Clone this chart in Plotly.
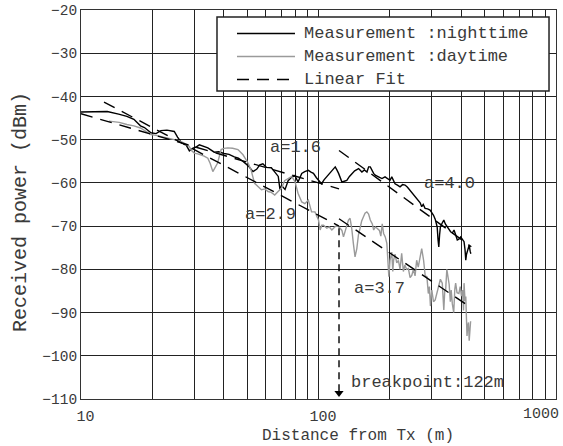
import math
import plotly.graph_objects as go

# ---- measured received power vs. distance ----
night_d = [10, 12.9, 14.4, 15.6, 16.7, 17.8, 18.5, 19.7, 20.7, 21.7, 23.0, 24.7, 25.5, 26.4,
           27.7, 28.6, 29.5, 30.5, 31.5, 33.0, 34.2, 36.4, 38.0, 40.0, 42.0, 44.2, 46.0, 48.0,
           50.5, 53.0, 55.0, 56.6, 58.3, 60.3, 63.3, 65.5, 67.7, 68.8, 69.9, 72.3, 74.5, 77.0,
           79.5, 82.0, 85.0, 87.5, 90.6, 93.0, 95.2, 98.0, 100, 103, 105.5, 108.4, 111, 113.8,
           117.6, 119.5, 121.5, 125.5, 128.5, 131.6, 135, 138.2, 142, 147.5, 152.3, 156, 160,
           162.6, 165.2, 170.6, 173.3, 179, 185, 190.6, 195, 200, 203.5, 210, 215, 220.5, 226,
           231.5, 237, 243, 249, 255, 263.5, 268, 272, 276, 281, 288, 295, 300, 305, 310, 316,
           318.5, 321, 323.5, 326, 331, 337, 342, 348, 354, 360, 366, 372, 378, 384, 390, 397,
           403, 410, 414, 417, 420, 424, 431, 435, 438]
night_p = [-43.6, -43.5, -44.1, -44.6, -45.3, -46.8, -47.2, -48.4, -48.6, -47.9, -47.8, -48.1,
           -49.4, -50.6, -51.2, -52.6, -52.0, -51.7, -51.2, -51.6, -51.9, -52.9, -52.8, -53.2,
           -53.4, -54.0, -54.3, -55.0, -56.0, -57.4, -56.8, -55.8, -55.6, -56.4, -56.5, -57.5,
           -58.5, -61.5, -60.6, -61.5, -59.5, -58.7, -58.3, -59.8, -57.8, -57.4, -57.1, -57.5,
           -57.8, -58.8, -59.4, -60.2, -59.3, -58.6, -57.8, -57.1, -56.3, -57.0, -57.8, -59.8,
           -59.6, -59.4, -58.5, -57.8, -57.2, -56.7, -57.5, -57.0, -57.5, -56.3, -56.3, -57.8,
           -58.2, -58.6, -59.0, -58.6, -58.9, -59.4, -58.6, -60.2, -60.5, -60.9, -60.4, -60.5,
           -61.0, -61.7, -62.3, -63.2, -64.0, -64.6, -65.5, -65.0, -65.9, -66.0, -66.3, -66.8,
           -67.5, -68.4, -70.2, -73.0, -74.8, -72.0, -70.2, -69.4, -68.6, -69.5, -70.2, -70.9,
           -71.3, -71.6, -70.9, -72.0, -73.2, -73.0, -72.5, -73.0, -73.6, -75.5, -77.9, -76.5,
           -75.5, -74.4, -75.8, -76.4]

day_d = [13.1, 14.5, 15.6, 16.7, 17.8, 18.8, 19.7, 20.7, 21.7, 23.0, 24.7, 26.0, 27.2, 28.5,
         29.2, 30.0, 31.0, 32.0, 33.0, 34.2, 35.0, 35.9, 36.7, 37.6, 38.9, 40.0, 41.5, 43.5,
         45.8, 48.1, 50.5, 52.0, 53.8, 55.5, 57.5, 59.5, 61.3, 63.3, 65.4, 67.6, 69.9, 72.0,
         74.6, 77.1, 79.6, 82.0, 85.0, 87.6, 90.6, 93.5, 96.6, 100, 101.6, 103.3, 105, 108.4,
         111, 113.8, 116.5, 119.5, 123.3, 125.5, 127.4, 129.4, 131.5, 133.7, 135.8, 138, 140.2,
         142.5, 145, 147.3, 149.6, 152, 154.5, 157, 159.8, 162.5, 165.2, 168.5, 170.7, 173.5,
         176.4, 180.5, 183, 185.5, 188, 191, 194, 197.8, 200, 203.5, 205.5, 207, 210, 213.5,
         217, 220.5, 224, 227.7, 231, 235, 239, 243, 247, 251, 255, 259, 263, 268, 272, 277,
         281.4, 286, 290, 293, 296, 300, 305, 310, 315, 321, 326, 332, 337, 340, 343, 347,
         350, 355, 359, 362, 366, 371, 375, 378, 383, 390, 395, 400, 404, 408, 410, 414, 417,
         420, 422, 425, 428, 431, 434, 437]
day_p = [-45.7, -46.0, -46.5, -46.8, -47.3, -48.2, -48.8, -49.0, -49.2, -49.6, -50.0, -50.3,
         -50.8, -51.5, -52.5, -53.1, -53.3, -53.5, -53.8, -54.3, -55.5, -57.4, -56.5, -55.4,
         -52.3, -52.0, -51.9, -52.0, -52.3, -53.5, -55.4, -57.0, -60.1, -60.8, -61.6, -61.4,
         -62.0, -62.2, -62.8, -62.0, -61.2, -59.5, -58.9, -58.5, -59.7, -62.4, -64.4, -64.8,
         -64.0, -66.7, -66.7, -68.6, -70.9, -69.8, -69.8, -70.5, -70.2, -70.9, -70.3, -69.8,
         -70.5, -71.0, -72.5, -71.3, -69.8, -68.6, -68.2, -70.5, -74.0, -77.1, -75.2, -72.0,
         -70.5, -68.8, -67.9, -67.0, -66.7, -67.2, -68.6, -69.5, -70.9, -70.2, -70.5, -71.0,
         -72.3, -69.5, -71.7, -72.5, -74.0, -81.7, -77.9, -76.0, -80.5, -78.0, -76.5, -78.5,
         -77.9, -80.0, -76.3, -80.5, -79.0, -80.0, -79.8, -81.9, -81.4, -80.0, -81.5, -77.9,
         -79.5, -77.0, -75.2, -77.9, -81.5, -81.7, -85.6, -84.0, -88.5, -84.8, -87.5, -87.1,
         -85.5, -84.0, -82.3, -83.2, -89.4, -85.0, -84.8, -80.0, -81.7, -83.5, -87.5, -84.8,
         -88.0, -90.0, -84.5, -83.2, -85.4, -85.6, -84.0, -86.2, -84.8, -89.5, -83.2, -87.3,
         -86.3, -91.0, -95.4, -93.0, -92.3, -96.5, -93.0, -92.0]

# ---- linear fits: path-loss exponent a, start/end distance, power at start ----
fit_a = [1.6, 2.9, 4.0, 3.7]
fit_d0 = [10, 12.5, 122, 122]
fit_d1 = [122, 122, 440, 420]
fit_p0 = [-44.0, -41.3, -52.5, -68.3]
fit_label_d = [61, 48, 273, 138]
fit_label_p = [-51.9, -67.4, -60.2, -84.5]

breakpoint_d = 122
breakpoint_p = [-70.5, -108.2]

x_ticks = [10, 20, 30, 40, 50, 60, 70, 80, 90, 100, 200, 300, 400, 500, 600, 700, 800, 900, 1000]
x_labels = {10: "\u00a010", 100: "\u00a0100"}
x_ticktext = [x_labels.get(v, "") for v in x_ticks]
x_last = 1000          # right-hand decade label, kept inside the page
y_ticks = list(range(-110, -19, 10))

legend_names = ["Measurement :nighttime", "Measurement :daytime", "Linear Fit"]
legend_colors = ["black", "#9a9a9a", "black"]
legend_dashes = ["solid", "solid", "12px,8px"]

FONT = "Liberation Mono, Courier New, monospace"
TXT = "#3a3a3a"

fig = go.Figure()

fig.add_trace(go.Scatter(x=night_d, y=night_p, mode="lines", name=legend_names[0],
                         line=dict(color=legend_colors[0], width=1.4), showlegend=False))
fig.add_trace(go.Scatter(x=day_d, y=day_p, mode="lines", name=legend_names[1],
                         line=dict(color=legend_colors[1], width=1.4), showlegend=False))

fit_x, fit_y = [], []
for a, d0, d1, p0 in zip(fit_a, fit_d0, fit_d1, fit_p0):
    fit_x += [d0, d1, None]
    fit_y += [p0, p0 - 10 * a * math.log10(d1 / d0), None]
fig.add_trace(go.Scatter(x=fit_x, y=fit_y, mode="lines", name=legend_names[2],
                         line=dict(color=legend_colors[2], width=1.4, dash=legend_dashes[2]),
                         showlegend=False))

# breakpoint marker
fig.add_trace(go.Scatter(x=[breakpoint_d, breakpoint_d], y=breakpoint_p, mode="lines",
                         line=dict(color="black", width=1.4, dash="7px,5px"), showlegend=False))
fig.add_trace(go.Scatter(x=[breakpoint_d], y=[breakpoint_p[1] - 0.4], mode="markers",
                         marker=dict(symbol="triangle-down", size=8, color="black"),
                         showlegend=False))

for a, ld, lp in zip(fit_a, fit_label_d, fit_label_p):
    fig.add_annotation(x=math.log10(ld), y=lp, text=f"a={a:.1f}", showarrow=False,
                       xanchor="left", yanchor="middle", font=dict(family=FONT, size=17, color=TXT))
fig.add_annotation(x=math.log10(breakpoint_d) + 0.04, y=-106.2, text=f"breakpoint:{breakpoint_d}m",
                   showarrow=False, xanchor="left", yanchor="middle",
                   font=dict(family=FONT, size=17, color=TXT))

# legend box (paper coordinates) with line samples and labels
fig.add_shape(type="rect", xref="paper", yref="paper", x0=0.2863, x1=0.9853, y0=0.7918, y1=0.982,
              fillcolor="white", line=dict(color="#222222", width=1.5), layer="above")
legend_rows = [0.9396, 0.8805, 0.8213]
for name, col, dash, ry in zip(legend_names, legend_colors, legend_dashes, legend_rows):
    fig.add_shape(type="line", xref="paper", yref="paper", x0=0.3284, x1=0.4505, y0=ry, y1=ry,
                  line=dict(color=col, width=1.5, dash=dash), layer="above")
    fig.add_annotation(xref="paper", yref="paper", x=0.4653, y=ry, text=name, showarrow=False,
                       xanchor="left", yanchor="middle", font=dict(family=FONT, size=17, color=TXT))

# last decade label on the x axis, right-aligned at the plot edge
fig.add_annotation(x=math.log10(x_last), xref="x", yref="paper", y=-0.040, text=str(x_last),
                   showarrow=False, xanchor="right", yanchor="middle", xshift=5,
                   font=dict(family=FONT, size=15, color=TXT))

# axis titles
fig.add_annotation(xref="paper", yref="paper", x=0.583, y=-0.0964, text="Distance from Tx (m)",
                   showarrow=False, xanchor="center", yanchor="middle",
                   font=dict(family=FONT, size=16, color=TXT))
fig.add_annotation(xref="paper", yref="paper", x=-0.126, y=0.481, text="Received power (dBm)",
                   textangle=-90, showarrow=False, xanchor="center", yanchor="middle",
                   font=dict(family=FONT, size=20, color=TXT))

fig.update_xaxes(type="log", range=[1, 3], tickvals=x_ticks, ticktext=x_ticktext,
                 showgrid=True, gridcolor="#222222", gridwidth=1,
                 showline=True, linecolor="#333333", linewidth=1, mirror=True,
                 ticks="", ticklabelstandoff=3, automargin=False,
                 tickfont=dict(family=FONT, size=15, color=TXT),
                 zeroline=False)
fig.update_yaxes(range=[-110, -20], tickvals=y_ticks,
                 showgrid=True, gridcolor="#222222", gridwidth=1,
                 showline=True, linecolor="#333333", linewidth=1, mirror=True,
                 ticks="", automargin=False, tickfont=dict(family=FONT, size=14.5, color=TXT),
                 zeroline=False)

fig.update_layout(
    width=563, height=446,
    margin=dict(l=81, r=7, t=10, b=47),
    plot_bgcolor="white", paper_bgcolor="white",
    showlegend=False,
)

fig.write_html("out.html")
